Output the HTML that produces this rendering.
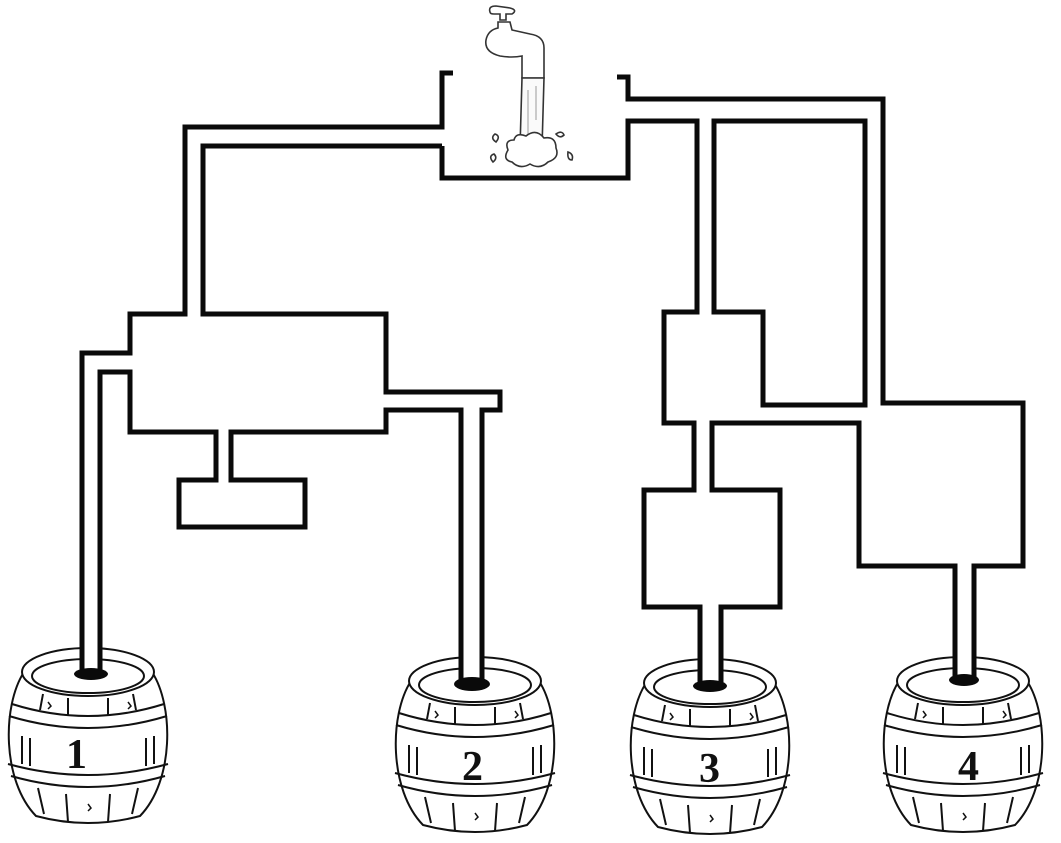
<!DOCTYPE html>
<html><head><meta charset="utf-8"><style>
html,body{margin:0;padding:0;background:#fff;}
svg{display:block;}
text{font-family:"Liberation Serif",serif;font-weight:bold;font-size:42px;fill:#111;}
</style></head><body>
<svg width="1061" height="843" viewBox="0 0 1061 843" xmlns="http://www.w3.org/2000/svg">
<defs>
<g id="barrel" fill="none" stroke="#111" stroke-width="2">
<path d="M-64,26 C-86,60 -86,135 -52,170 Q0,184 52,170 C86,135 86,60 64,26" fill="#fff"/>
<ellipse cx="0" cy="26" rx="66" ry="24" fill="#fff"/>
<ellipse cx="0" cy="30" rx="56" ry="17"/>
<path d="M-76,58 Q0,82 76,58 M-79,70 Q0,94 79,70"/>
<path d="M-80,118 Q0,140 80,118 M-77,130 Q0,152 77,130"/>
<path d="M-45,48 L-48,64 M-20,52 L-20,70 M20,52 L20,70 M45,48 L48,64"/>
<path d="M-66,90 L-66,118 M-58,92 L-58,120 M58,92 L58,120 M66,90 L66,118"/>
<path d="M-50,142 L-44,168 M-22,148 L-20,176 M22,148 L20,176 M50,142 L44,168"/>
<path d="M-40,56 l3,4 l-3,3 M40,56 l3,4 l-3,3 M0,158 l3,4 l-3,3" stroke-width="1.5"/>
</g>
</defs>

<!-- faucet -->
<g fill="#fff" stroke="#333" stroke-width="1.6">
<path d="M490,12 Q488,6 496,6 L510,8 Q518,10 512,14 L506,14 L506,20 L500,20 L500,14 L494,14 Q490,14 490,12Z"/>
<path d="M498,22 L510,22 L512,30 L530,34 Q544,36 544,48 L544,78 L522,78 L522,56 Q512,58 500,56 Q484,52 486,40 Q488,30 498,28Z"/>
<path d="M522,78 L544,78 L542,148 L520,148Z" fill="#fafafa"/>
<path d="M528,90 L528,140 M536,86 L536,120" stroke="#999" stroke-width="1"/>
<path d="M508,150 Q504,140 514,140 Q516,132 526,136 Q536,128 544,138 Q556,136 556,148 Q560,158 548,162 Q540,170 530,164 Q520,170 512,162 Q502,160 508,150Z"/>
<path d="M496,142 q-6,-4 -1,-8 q6,2 1,8Z M493,162 q-5,-6 1,-8 q4,4 -1,8Z M556,134 q6,-4 8,1 q-4,4 -8,-1Z M568,152 q6,2 4,8 q-5,0 -4,-8Z"/>
</g>

<!-- pipes -->
<g fill="none" stroke="#0a0a0a" stroke-width="5" stroke-linejoin="miter" stroke-linecap="butt">
<path d="M453,73 L442,73 L442,127 L185,127 L185,314 L130,314 L130,353 L82,353 L82,672"/>
<path d="M442,146 L203,146 L203,314 L386,314 L386,392 L500,392 L500,410 L482,410 L482,682"/>
<path d="M100,672 L100,372 L130,372 L130,432 L216,432 L216,480 L179,480 L179,527 L305,527 L305,480 L231,480 L231,432 L386,432 L386,410 L461,410 L461,682"/>
<path d="M442,146 L442,178 L628,178 L628,121 L697,121 L697,312 L664,312 L664,423 L694,423 L694,490 L644,490 L644,607 L700,607 L700,684"/>
<path d="M617,77 L628,77 L628,99 L883,99 L883,403 L1023,403 L1023,566 L974,566 L974,678"/>
<path d="M714,312 L714,121 L865,121 L865,405 L763,405 L763,312 Z"/>
<path d="M721,684 L721,607 L780,607 L780,490 L712,490 L712,423 L859,423 L859,566 L955,566 L955,678"/>
</g>

<!-- barrels -->
<use href="#barrel" transform="translate(88,646)"/>
<use href="#barrel" transform="translate(475,655)"/>
<use href="#barrel" transform="translate(710,657)"/>
<use href="#barrel" transform="translate(963,655)"/>

<!-- pipe ends drawn over barrel tops -->
<g fill="none" stroke="#0a0a0a" stroke-width="5">
<path d="M82,640 L82,672 M100,640 L100,672"/>
<path d="M461,650 L461,682 M482,650 L482,682"/>
<path d="M700,650 L700,684 M721,650 L721,684"/>
<path d="M955,650 L955,678 M974,650 L974,678"/>
</g>
<rect x="84.5" y="640" width="13" height="32" fill="#fff"/>
<rect x="463.5" y="650" width="16" height="32" fill="#fff"/>
<rect x="702.5" y="650" width="16" height="34" fill="#fff"/>
<rect x="957.5" y="650" width="14" height="28" fill="#fff"/>
<ellipse cx="91" cy="674" rx="17" ry="6" fill="#0a0a0a"/>
<ellipse cx="472" cy="684" rx="18" ry="7" fill="#0a0a0a"/>
<ellipse cx="710" cy="686" rx="17" ry="6" fill="#0a0a0a"/>
<ellipse cx="964" cy="680" rx="15" ry="6" fill="#0a0a0a"/>

<text x="66" y="768">1</text>
<text x="462" y="780">2</text>
<text x="699" y="782">3</text>
<text x="958" y="780">4</text>
</svg>
</body></html>
